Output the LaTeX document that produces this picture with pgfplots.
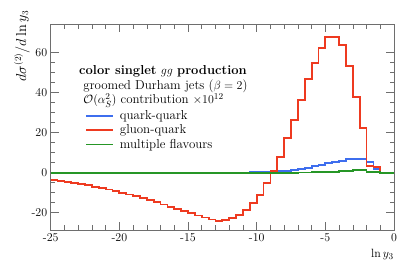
\documentclass[border=0pt]{standalone}
\usepackage{pgfplots}
\pgfplotsset{compat=1.18}
\definecolor{cred}{RGB}{238,58,32}
\definecolor{cblue}{RGB}{62,110,238}
\definecolor{cgreen}{RGB}{38,150,38}
\definecolor{axgray}{RGB}{110,110,110}
\begin{document}
\begin{tikzpicture}
\begin{axis}[
  scale only axis, width=343.3bp, height=205.7bp,
  xmin=-25, xmax=0, ymin=-28.6, ymax=74.2,
  xtick={-25,-20,...,0}, ytick={-20,0,20,40,60},
  minor x tick num=4, minor y tick num=3,
  tick align=inside,
  major tick length=8bp, minor tick length=4.5bp,
  axis line style={axgray, line width=0.6pt},
  tick style={axgray, line width=0.6pt},
  font=\fontsize{12}{14}\selectfont,
  tick label style={font=\fontsize{12}{14}\selectfont},
  /pgf/number format/assume math mode=true,
  xlabel={$\ln y_3$}, ylabel={$d\sigma^{(2)}/d\ln y_3$},
  xlabel style={at={(axis description cs:1,-0.12)}, anchor=east, inner sep=0pt, font=\fontsize{13}{15}\selectfont},
  ylabel style={at={(axis description cs:-0.084,1.068)}, anchor=east, inner sep=0pt, font=\fontsize{13.5}{15}\selectfont},
  legend cell align=left,
  legend style={at={(rel axis cs:0.0999,0.592)}, anchor=north west, draw=none, fill=none,
    font=\fontsize{13}{15}\selectfont, inner sep=0pt, row sep=0pt,
    /tikz/every odd column/.append style={column sep=4bp},
    /tikz/every even column/.append style={text height=9pt, text depth=3.2pt, inner ysep=1.2pt}},
  legend image code/.code={\draw[#1] (0bp,0bp) -- (27bp,0bp);},
]
\addlegendimage{cblue, line width=1.8pt}
\addlegendentry{quark-quark}
\addlegendimage{cred, line width=1.8pt}
\addlegendentry{gluon-quark}
\addlegendimage{cgreen, line width=1.8pt}
\addlegendentry{multiple flavours}
\addplot[cblue, const plot, line width=1.8pt, line join=miter, forget plot] coordinates {
(-25,0) (-24.5,0) (-24,0) (-23.5,0) (-23,0) (-22.5,0) (-22,0) (-21.5,0) (-21,0) (-20.5,0)
(-20,0) (-19.5,0) (-19,0) (-18.5,0) (-18,0) (-17.5,0) (-17,0) (-16.5,0) (-16,0) (-15.5,0)
(-15,0) (-14.5,0) (-14,0) (-13.5,0) (-13,0) (-12.5,0) (-12,0.05) (-11.5,0.1) (-11,0.15) (-10.5,0.2)
(-10,0.3) (-9.5,0.4) (-9,0.55) (-8.5,0.7) (-8,0.9) (-7.5,1.3) (-7,1.7) (-6.5,2.3) (-6,3.3) (-5.5,4.0)
(-5,4.7) (-4.5,5.3) (-4,5.8) (-3.5,6.7) (-3,7.0) (-2.5,6.7) (-2,5.2) (-1.5,1.7) (-1,0) (-0.5,0) (0,0)
};
\addplot[cred, const plot, line width=1.8pt, line join=miter, forget plot] coordinates {
(-25,-3.8) (-24.5,-4.2) (-24,-4.6) (-23.5,-5.1) (-23,-5.7) (-22.5,-6.3) (-22,-7.0) (-21.5,-7.7) (-21,-8.4) (-20.5,-9.2)
(-20,-10.0) (-19.5,-10.9) (-19,-11.8) (-18.5,-12.8) (-18,-13.8) (-17.5,-14.8) (-17,-15.9) (-16.5,-17.0) (-16,-18.1) (-15.5,-19.2)
(-15,-20.3) (-14.5,-21.4) (-14,-22.4) (-13.5,-23.4) (-13,-24.3) (-12.5,-23.8) (-12,-22.8) (-11.5,-21.2) (-11,-18.5) (-10.5,-15.3)
(-10,-11.0) (-9.5,-5.3) (-9,0.8) (-8.5,8.0) (-8,17.2) (-7.5,26.2) (-7,36.3) (-6.5,47.0) (-6,55.0) (-5.5,62.2)
(-5,67.8) (-4.5,68.0) (-4,63.8) (-3.5,53.2) (-3,38.0) (-2.5,22.2) (-2,3.5) (-1.5,3.0) (-1,0) (-0.5,0) (0,0)
};
\addplot[cgreen, const plot, line width=1.8pt, line join=miter, forget plot] coordinates {
(-25,0) (-24.5,0) (-24,0) (-23.5,0) (-23,0) (-22.5,0) (-22,0) (-21.5,0) (-21,0) (-20.5,0)
(-20,0) (-19.5,0) (-19,0) (-18.5,0) (-18,0) (-17.5,0) (-17,0) (-16.5,0) (-16,0) (-15.5,0)
(-15,0) (-14.5,0) (-14,0) (-13.5,0) (-13,0) (-12.5,0) (-12,0) (-11.5,0) (-11,0) (-10.5,0)
(-10,0) (-9.5,0) (-9,0) (-8.5,0) (-8,0) (-7.5,0) (-7,0.1) (-6.5,0.1) (-6,0.2) (-5.5,0.2)
(-5,0.3) (-4.5,0.4) (-4,0.7) (-3.5,1.0) (-3,1.5) (-2.5,1.3) (-2,0.5) (-1.5,0.2) (-1,0) (-0.5,0) (0,0)
};
\node[anchor=north west, align=left, inner sep=0pt, font=\fontsize{13}{14.6}\selectfont]
  at (rel axis cs:0.0824,0.800)
  {\textbf{color singlet} $gg$ \textbf{production}\\
   \ groomed Durham jets ($\beta=2$)\\
   \ $\mathcal{O}(\alpha_S^2)$ contribution $\times 10^{12}$};
\end{axis}
\pgfresetboundingbox
\path (current axis.south west) ++(-50.7bp,-35bp) rectangle ++(407bp,265bp);
\end{tikzpicture}
\end{document}
